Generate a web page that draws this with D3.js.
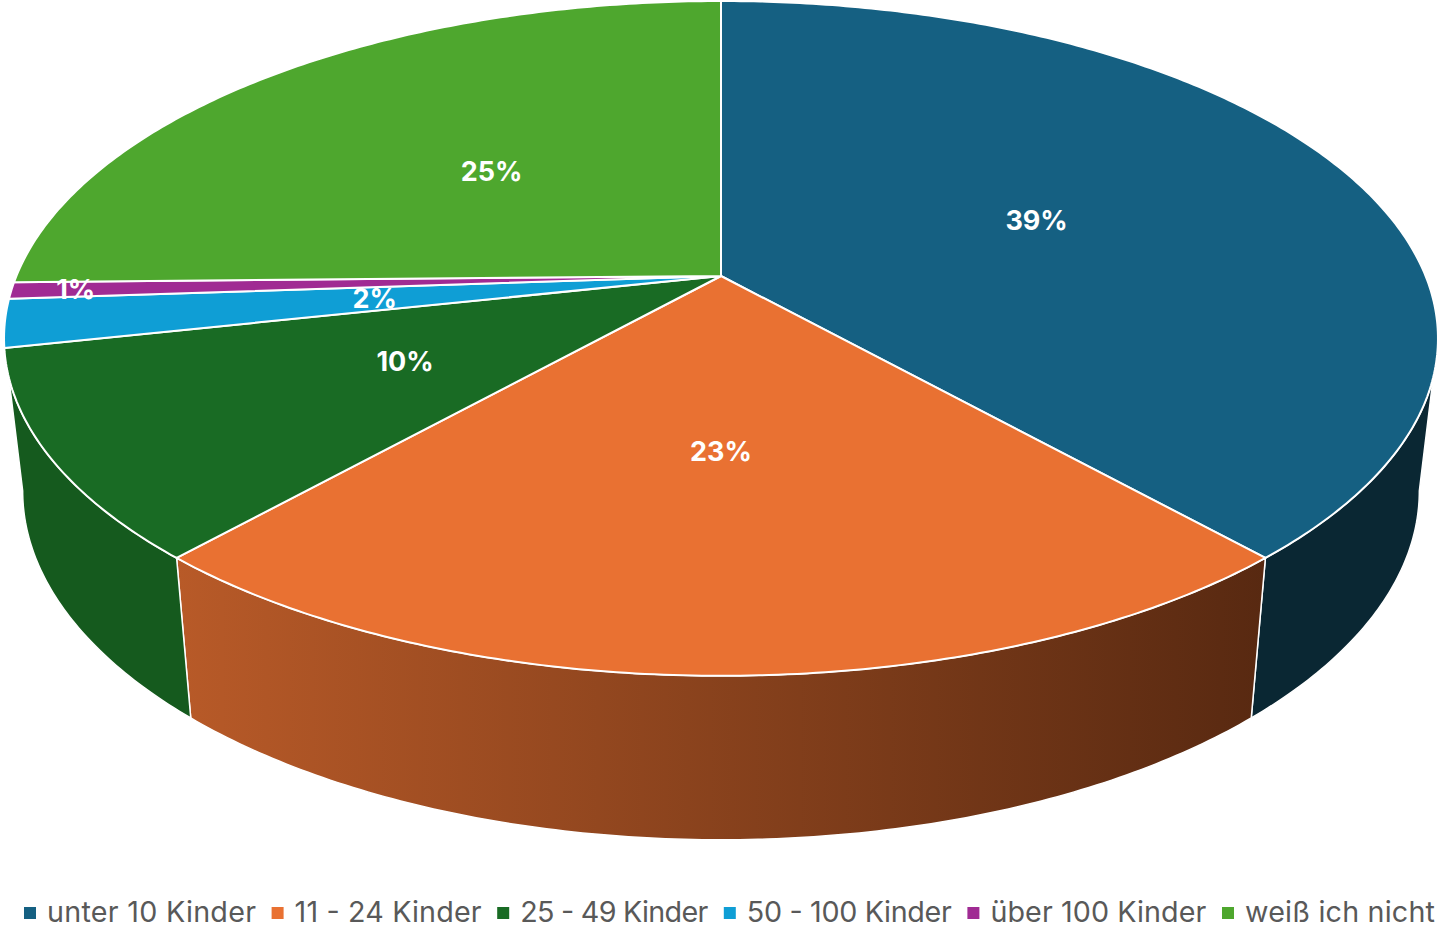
<!DOCTYPE html>
<html>
<head>
<meta charset="utf-8">
<script src="https://cdn.jsdelivr.net/npm/d3@7"></script>
<style>
    html, body { margin: 0; padding: 0; background: #fff; }
    svg { display: block; }
</style>
</head>
<body>
<script>
var categories = ['unter 10 Kinder', '11 - 24 Kinder', '25 - 49 Kinder', '50 - 100 Kinder', 'über 100 Kinder', 'weiß ich nicht'];
var shares = [38.4, 23.2, 10.0, 2.3, 0.8, 25.3]; //percent, slice sizes
var percentLabels = ['39%', '23%', '10%', '2%', '1%', '25%']; //as printed on the slices
var colors = ['#156082', '#e97132', '#196b24', '#0f9ed5', '#a02b93', '#4ea72e'];
var wallLeft = ['#0a2733', '#b85a28', '#155a1e', '#0f9ed5', '#a02b93', '#4ea72e']; //side wall shading, left end
var wallRight = ['#0a2733', '#582911', '#155a1e', '#0f9ed5', '#a02b93', '#4ea72e']; //side wall shading, right end

var width = 1440, height = 928;

var svg = d3.select('body').append('svg').attr('width', width).attr('height', height);
var defs = svg.append('defs');

//the top of the pie is a circle seen in perspective, k is the amount of it
var centerX = 721, apexY = 276, k = -0.185;
var radiusX = 704.6, radiusY = 274.8;

//how far out each percent label sits, 1 is on the rim
var labelRadius = [0.495, 0.49, 0.495, 0.49, 0.91, 0.485];
//legend text is squeezed to these widths, the font here runs a bit different
var legendWidths = [209, 187, 188, 205, 216, 190];

function topPoint(angle, r) {
    var u = Math.sin(angle) * r, v = -Math.cos(angle) * r;
    var w = 1 + k * v;
    return [centerX + radiusX * u / w, (radiusY * v + apexY) / w];
}

//the rim of the underside
function bottomPoint(angle) {
    var p = topPoint(angle, 1);
    return [centerX + 0.974 * (p[0] - centerX), 1.034 * p[1] + 141];
}

function sample(a0, a1) {
    var n = Math.max(2, Math.ceil(Math.abs(a1 - a0) * 90));
    return d3.range(n + 1).map(function (i) { return a0 + (a1 - a0) * i / n; });
}

var pie = d3.pie().sort(null).value(function (d) { return d; });
var slices = pie(shares);
var line = d3.line();

//only the part between the widest points of the rim can be seen
var visStart = Math.PI - Math.acos(-k), visEnd = 2 * Math.PI - visStart;
var walls = slices.filter(function (d) {
    return Math.min(d.endAngle, visEnd) - Math.max(d.startAngle, visStart) > 0.1;
});

walls.forEach(function (d, i) {
    var a0 = Math.max(d.startAngle, visStart);
    var a1 = i == walls.length - 1 ? visEnd : Math.min(d.endAngle, visEnd);
    var pts = sample(a0, a1).map(function (a) { return topPoint(a, 1); })
        .concat(sample(a1, a0).map(bottomPoint));
    var xs = d3.extent(pts, function (p) { return p[0]; });

    var grad = defs.append('linearGradient')
        .attr('id', 'wall' + d.index)
        .attr('gradientUnits', 'userSpaceOnUse')
        .attr('x1', xs[0]).attr('x2', xs[1]).attr('y1', 0).attr('y2', 0);
    grad.append('stop').attr('offset', 0).attr('stop-color', wallLeft[d.index]);
    grad.append('stop').attr('offset', 1).attr('stop-color', wallRight[d.index]);

    svg.append('path')
        .attr('d', line(pts) + 'Z')
        .attr('fill', 'url(#wall' + d.index + ')')
        .attr('stroke', '#fff')
        .attr('stroke-width', 1.5)
        .attr('stroke-linejoin', 'round');
});

svg.selectAll('path.slice')
    .data(slices)
    .enter().append('path')
    .attr('class', 'slice')
    .attr('d', function (d) {
        var pts = sample(d.startAngle, d.endAngle).map(function (a) { return topPoint(a, 1); });
        pts.unshift([centerX, apexY]);
        return line(pts) + 'Z';
    })
    .attr('fill', function (d) { return colors[d.index]; })
    .attr('stroke', '#fff')
    .attr('stroke-width', 2)
    .attr('stroke-linejoin', 'round');

svg.selectAll('text.label')
    .data(slices)
    .enter().append('text')
    .attr('class', 'label')
    .attr('transform', function (d) {
        var p = topPoint((d.startAngle + d.endAngle) / 2, labelRadius[d.index]);
        return 'translate(' + p[0] + ',' + p[1] + ')';
    })
    .attr('text-anchor', 'middle')
    .attr('dy', '0.35em')
    .attr('fill', '#fff')
    .attr('font-family', 'Inter, sans-serif')
    .attr('font-weight', 700)
    .attr('font-size', 27)
    .text(function (d) { return percentLabels[d.index]; });

//legend
var legendX = 24, legendY = 912;
categories.forEach(function (name, i) {
    svg.append('rect')
        .attr('x', legendX)
        .attr('y', legendY - 5)
        .attr('width', 12)
        .attr('height', 12)
        .attr('fill', colors[i]);
    svg.append('text')
        .attr('x', legendX + 23)
        .attr('y', legendY)
        .attr('dy', '0.35em')
        .attr('fill', '#595959')
        .attr('font-family', 'Inter, sans-serif')
        .attr('font-size', 28.7)
        .attr('textLength', legendWidths[i])
        .attr('lengthAdjust', 'spacing')
        .text(name);
    legendX += 23 + legendWidths[i] + 15.6;
});
</script>
</body>
</html>
